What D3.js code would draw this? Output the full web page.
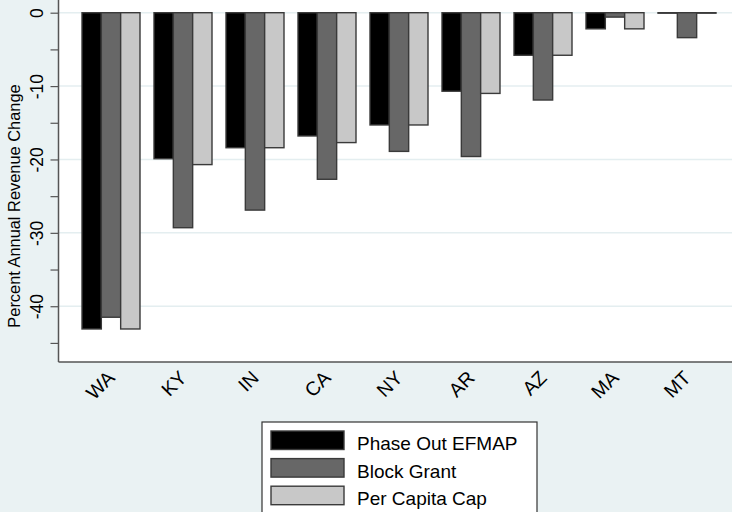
<!DOCTYPE html>
<html><head><meta charset="utf-8">
<script src="https://cdn.jsdelivr.net/npm/d3@7"></script>
<style>
html,body{margin:0;padding:0;background:#eaf2f3;}
svg{display:block;font-family:"Liberation Sans",Arial,sans-serif;}
</style></head>
<body><svg id="c" width="732" height="512"></svg>
<script>
const states = ["WA","KY","IN","CA","NY","AR","AZ","MA","MT"];
const seriesNames = ["Phase Out EFMAP","Block Grant","Per Capita Cap"];
const phaseOut   = [-43.1,-19.9,-18.4,-16.8,-15.3,-10.7,-5.8,-2.2,-0.05];
const blockGrant = [-41.5,-29.3,-26.9,-22.7,-18.9,-19.6,-11.9,-0.6,-3.4];
const perCapita  = [-43.1,-20.7,-18.4,-17.7,-15.3,-11.0,-5.8,-2.2,-0.05];
const majorTicks = [0,-10,-20,-30,-40];
const minorTicks = [-5,-15,-25,-35,-45];
const colors = ["#000000","#676767","#c8c8c8"];

const FONT = "'Liberation Sans', Arial, sans-serif";
const svg = d3.select("#c");
const W = 732, H = 512;
svg.append("rect").attr("width",W).attr("height",H).attr("fill","#eaf2f3");

const plotL = 58.5, plotR = 732, plotT = 0, plotB = 362;
svg.append("rect").attr("x",plotL).attr("y",plotT).attr("width",plotR-plotL).attr("height",plotB-plotT).attr("fill","#ffffff");

const y = d3.scaleLinear().domain([0,-47.6]).range([12.7,362]);
const x = d3.scaleBand().domain(states).range([75,723]).paddingInner(14/72).paddingOuter(7/72);
const xs = d3.scaleBand().domain(seriesNames).range([0,x.bandwidth()]);

// gridlines
svg.append("g").selectAll("line").data(majorTicks).join("line")
  .attr("x1",plotL).attr("x2",plotR).attr("y1",d=>y(d)).attr("y2",d=>y(d))
  .attr("stroke","#e4eef0").attr("stroke-width",1.5);

const allSeries = [phaseOut,blockGrant,perCapita];
const data = [];
states.forEach((s,i)=>allSeries.forEach((arr,j)=>data.push({s,j,name:seriesNames[j],v:arr[i]})));

svg.append("g").selectAll("rect").data(data).join("rect")
  .attr("x",d=>x(d.s)+xs(d.name))
  .attr("width",xs.bandwidth())
  .attr("y",d=>y(0))
  .attr("height",d=>Math.max(0.5,y(d.v)-y(0)))
  .attr("fill",d=>colors[d.j])
  .attr("stroke","#3a3a3a").attr("stroke-width",1.4);

// y axis
const ya = svg.append("g").attr("transform",`translate(${plotL},0)`)
  .call(d3.axisLeft(y).tickValues(majorTicks.concat(minorTicks)).tickSize(8).tickSizeOuter(0)
        .tickFormat(d=>majorTicks.includes(d)?String(d):""));
ya.attr("font-family",null).attr("font-size",null);
ya.select(".domain").attr("stroke","#555").attr("stroke-width",1.5).attr("d",`M0,${plotT}V${plotB}`);
ya.selectAll(".tick line").attr("stroke","#555").attr("stroke-width",1.2);
ya.selectAll(".tick text")
  .attr("font-family",FONT).attr("font-size",17.5).attr("fill","#000")
  .attr("x",null).attr("y",null).attr("dy","0")
  .attr("transform","translate(-15.5,0) rotate(-90)").attr("text-anchor","middle");

// x axis
const xa = svg.append("g").attr("transform",`translate(0,${plotB})`)
  .call(d3.axisBottom(x).tickSize(0).tickSizeOuter(0));
xa.attr("font-family",null).attr("font-size",null);
xa.select(".domain").attr("stroke","#555").attr("stroke-width",1.5).attr("d",`M${plotL},0H${plotR}`);
xa.selectAll(".tick text")
  .attr("font-family",FONT).attr("font-size",19.5).attr("fill","#000")
  .attr("text-anchor","end").attr("x",null).attr("y",null).attr("dy","0")
  .attr("transform","translate(5,17) rotate(-45)");

// y title
svg.append("text").attr("transform","translate(20,206) rotate(-90)")
  .attr("text-anchor","middle").attr("font-size",16.4).attr("fill","#000")
  .text("Percent Annual Revenue Change");

// legend
const lg = svg.append("g");
lg.append("rect").attr("x",262).attr("y",422).attr("width",275).attr("height",100)
  .attr("fill","#fff").attr("stroke","#333").attr("stroke-width",1.2);
seriesNames.forEach((n,i)=>{
  const yy = 431 + i*27.6;
  lg.append("rect").attr("x",271).attr("y",yy).attr("width",73).attr("height",18.5)
    .attr("fill",colors[i]).attr("stroke","#3a3a3a").attr("stroke-width",1.4);
  lg.append("text").attr("x",357).attr("y",yy+19).attr("font-size",19).attr("fill","#000").text(n);
});
</script></body></html>
